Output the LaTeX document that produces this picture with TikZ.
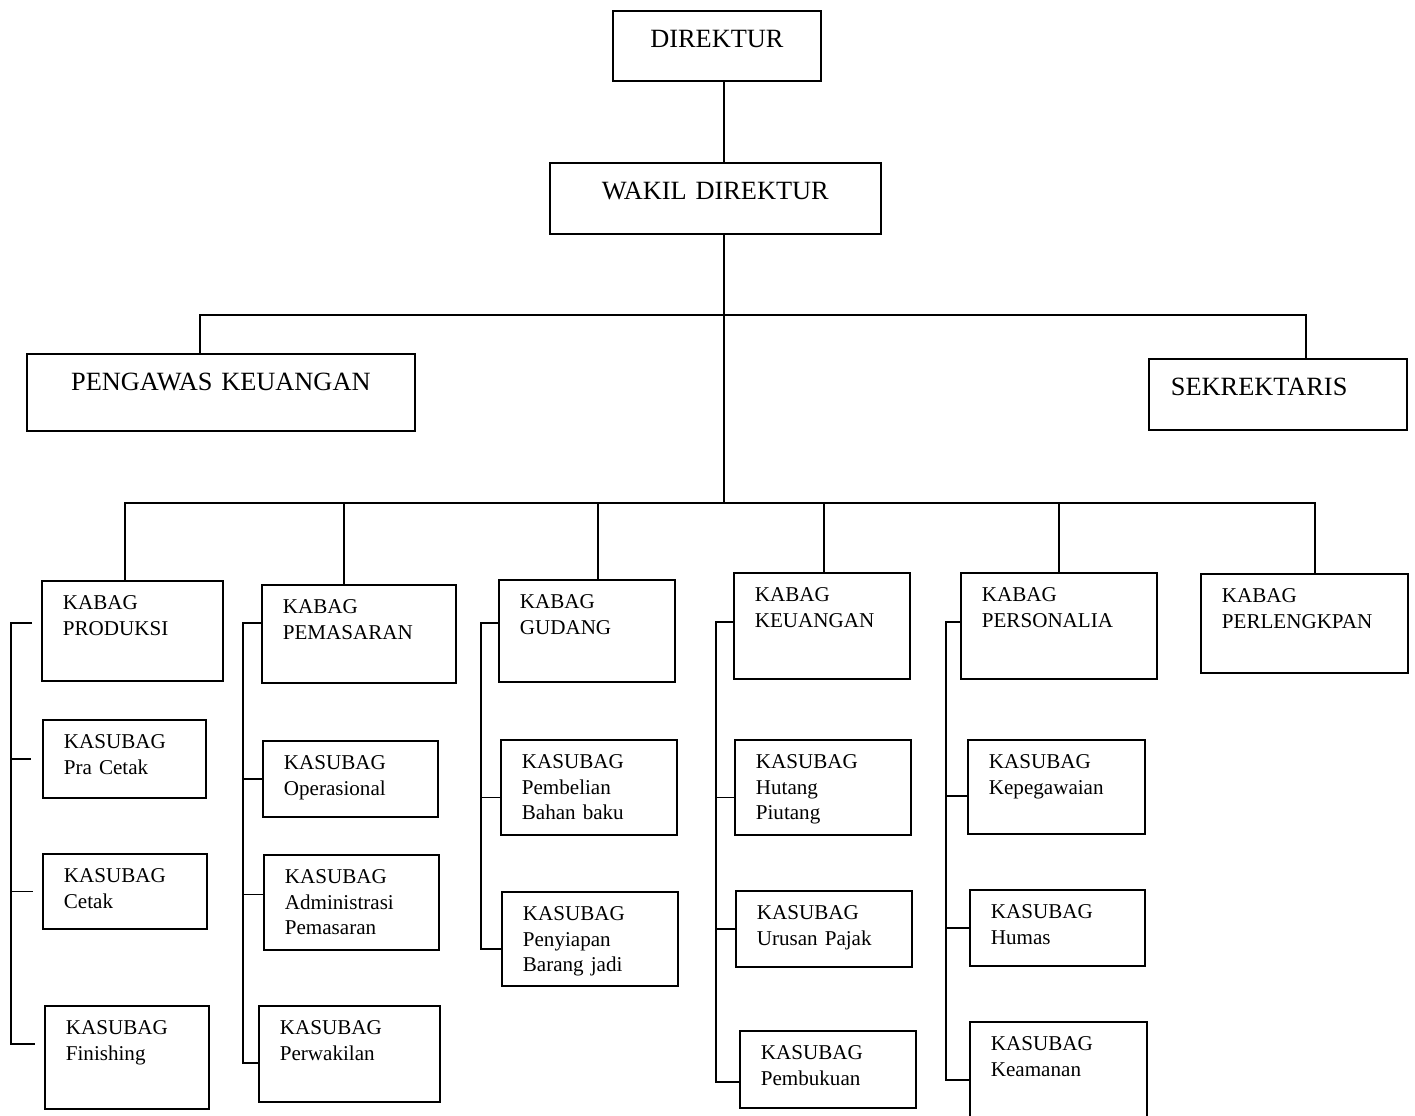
\documentclass[tikz,border=0pt]{standalone}
\usepackage{fontspec}
\setmainfont{Liberation Serif}
\tikzset{
topbox/.style 2 args={
	rectangle,
	draw=black,
	line width=1pt,
	anchor=north west,
	align=center,
	font=\fontsize{15}{18}\selectfont,
	inner xsep=0.2cm,
	inner ysep=0pt,
	text width=#1*0.02cm-0.4cm,
	text height=0.73cm,
	text depth=#2*0.02cm-0.73cm
},
unitbox/.style 2 args={
	rectangle,
	draw=black,
	line width=1pt,
	anchor=north west,
	align=left,
	font=\fontsize{12}{14.5}\selectfont,
	inner xsep=0.42cm,
	inner ysep=0pt,
	text width=#1*0.02cm-0.84cm,
	text height=0.58cm,
	text depth=#2*0.02cm-0.58cm
},
link/.style={
	draw=black,
	line width=0.8pt
}
}
\begin{document}
\begin{tikzpicture}[x=0.02cm, y=-0.02cm]
\useasboundingbox (0,0) rectangle (1415,1115);
\clip (0,0) rectangle (1415,1115);

% pimpinan
\node (dir)   [topbox={208}{70}] at (612,10) {DIREKTUR};
\node (wakil) [topbox={331}{71}] at (549,162) {WAKIL DIREKTUR};
\node (peng)  [topbox={388}{77}] at (26,353) {PENGAWAS KEUANGAN};
\node (sekr)  [topbox={258}{71}, align=left, inner xsep=0.44cm, text width=258*0.02cm-0.88cm] at (1148,358) {SEKREKTARIS};

% kepala bagian
\node (prod) [unitbox={181}{100}] at (41,580)   {KABAG\\PRODUKSI};
\node (pem)  [unitbox={194}{98}]  at (261,584)  {KABAG\\PEMASARAN};
\node (gud)  [unitbox={176}{102}] at (498,579)  {KABAG\\GUDANG};
\node (keu)  [unitbox={176}{106}] at (733,572)  {KABAG\\KEUANGAN};
\node (pers) [unitbox={196}{106}] at (960,572)  {KABAG\\PERSONALIA};
\node (perl) [unitbox={207}{99}]  at (1200,573) {KABAG\\PERLENGKPAN};

% kepala sub bagian
\node (pra)    [unitbox={163}{78}]  at (42,719)   {KASUBAG\\Pra Cetak};
\node (cetak)  [unitbox={164}{75}]  at (42,853)   {KASUBAG\\Cetak};
\node (fin)    [unitbox={164}{103}] at (44,1005)  {KASUBAG\\Finishing};
\node (ops)    [unitbox={175}{76}]  at (262,740)  {KASUBAG\\Operasional};
\node (adm)    [unitbox={175}{95}]  at (263,854)  {KASUBAG\\Administrasi\\Pemasaran};
\node (perw)   [unitbox={181}{96}]  at (258,1005) {KASUBAG\\Perwakilan};
\node (pemb)   [unitbox={176}{95}]  at (500,739)  {KASUBAG\\Pembelian\\Bahan baku};
\node (peny)   [unitbox={176}{94}]  at (501,891)  {KASUBAG\\Penyiapan\\Barang jadi};
\node (hut)    [unitbox={176}{95}]  at (734,739)  {KASUBAG\\Hutang\\Piutang};
\node (urus)   [unitbox={176}{76}]  at (735,890)  {KASUBAG\\Urusan Pajak};
\node (buku)   [unitbox={176}{77}]  at (739,1030) {KASUBAG\\Pembukuan};
\node (kepeg)  [unitbox={177}{94}]  at (967,739)  {KASUBAG\\Kepegawaian};
\node (humas)  [unitbox={175}{76}]  at (969,889)  {KASUBAG\\Humas};
\node (keam)   [unitbox={177}{100}] at (969,1021) {KASUBAG\\Keamanan};

% garis komando
\coordinate (hub)   at (724,315);
\coordinate (split) at (724,503);
\draw[link] (dir.south -| hub) -- (wakil.north -| hub);
\draw[link] (wakil.south -| hub) -- (split);
\draw[link] ([xshift=-0.42cm]peng.north) |- (hub) -| ([xshift=0.56cm]sekr.north);
\draw[link] ([xshift=-0.15cm]prod.north) |- (split) -| ([xshift=0.21cm]perl.north);
\foreach \n/\dx in {pem/-0.3, gud/0.22, keu/0.04, pers/0}
	\draw[link] ([xshift=\dx cm]\n.north) -- ([xshift=\dx cm]\n.north |- split);

% rel sub bagian
\coordinate (rail1) at (11,0);
\coordinate (rail2) at (243,0);
\coordinate (rail3) at (481,0);
\coordinate (rail4) at (716,0);
\coordinate (rail5) at (946,0);
\coordinate (prodtick)  at ([xshift=-0.18cm,yshift=0.16cm]prod.west);
\coordinate (fintick)   at ([xshift=-0.18cm,yshift=0.27cm]fin.west);
\coordinate (pemtick)   at ([yshift=0.22cm]pem.west);
\coordinate (admtick)   at ([yshift=0.16cm]adm.west);
\coordinate (perwtick)  at ([yshift=-0.18cm]perw.west);
\coordinate (gudtick)   at ([yshift=0.16cm]gud.west);
\coordinate (pembtick)  at ([yshift=-0.2cm]pemb.west);
\coordinate (penytick)  at ([yshift=-0.2cm]peny.west);
\coordinate (keutick)   at ([yshift=0.08cm]keu.west);
\coordinate (huttick)   at ([yshift=-0.2cm]hut.west);
\coordinate (bukutick)  at ([yshift=-0.25cm]buku.west);
\coordinate (perstick)  at ([yshift=0.08cm]pers.west);
\coordinate (kepegtick) at ([yshift=-0.18cm]kepeg.west);
\coordinate (keamtick)  at ([yshift=-0.16cm]keam.west);

\draw[link] (prodtick) -| (rail1 |- fintick) -- (fintick);
\draw[link] (rail1 |- pra.west) -- ([xshift=-0.22cm]pra.west);
\draw[link] (rail1 |- cetak.west) -- ([xshift=-0.18cm]cetak.west);

\draw[link] (pemtick) -| (rail2 |- perwtick) -- (perwtick);
\draw[link] (rail2 |- ops.west) -- (ops.west);
\draw[link] (rail2 |- admtick) -- (admtick);

\draw[link] (gudtick) -| (rail3 |- penytick) -- (penytick);
\draw[link] (rail3 |- pembtick) -- (pembtick);

\draw[link] (keutick) -| (rail4 |- bukutick) -- (bukutick);
\draw[link] (rail4 |- huttick) -- (huttick);
\draw[link] (rail4 |- urus.west) -- (urus.west);

\draw[link] (perstick) -| (rail5 |- keamtick) -- (keamtick);
\draw[link] (rail5 |- kepegtick) -- (kepegtick);
\draw[link] (rail5 |- humas.west) -- (humas.west);

\end{tikzpicture}
\end{document}
